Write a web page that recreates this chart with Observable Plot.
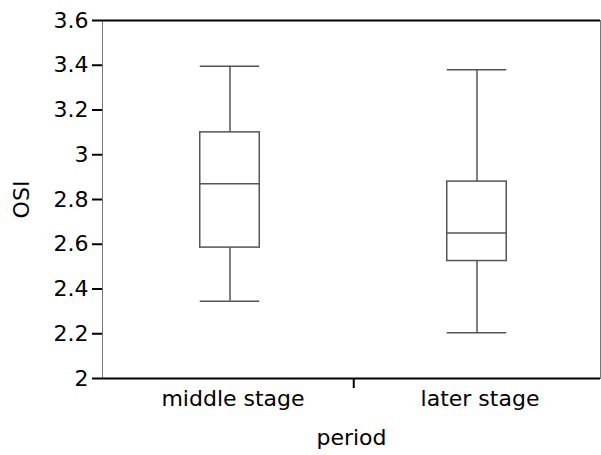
<!DOCTYPE html>
<html><head><meta charset="utf-8">
<script src="https://cdn.jsdelivr.net/npm/d3@7"></script>
<script src="https://cdn.jsdelivr.net/npm/@observablehq/plot@0.6"></script>
<style>body{margin:0;background:#fff} svg{font-family:"DejaVu Sans"}</style>
</head><body><div id="chart"></div>
<script>
const periods = ["middle stage", "later stage"];
const lowerWhisker = [2.345, 2.205];
const q1 = [2.585, 2.525];
const median = [2.87, 2.65];
const q3 = [3.10, 2.88];
const upperWhisker = [3.395, 3.38];
const yTicks = [2, 2.2, 2.4, 2.6, 2.8, 3, 3.2, 3.4, 3.6];

const stats = periods.map((p, i) => ({
  period: p, lo: lowerWhisker[i], q1: q1[i], med: median[i], q3: q3[i], hi: upperWhisker[i]
}));

const xRange = [105, 600];
const band = (xRange[1] - xRange[0]) / periods.length;
const boxW = 60;
const inset = (band - boxW) / 2;
const boxStroke = "#555";

const chart = Plot.plot({
  width: 601, height: 455,
  marginLeft: 102, marginRight: 1, marginTop: 20, marginBottom: 77,
  style: {fontFamily: "DejaVu Sans", fontSize: "22px", background: "white", color: "black"},
  x: {domain: periods, range: xRange, padding: 0, label: "period"},
  y: {domain: [2, 3.6], label: "OSI"},
  marks: [
    Plot.frame({stroke: "#777", strokeWidth: 1}),
    Plot.ruleY([3.6, 2], {stroke: "black", strokeWidth: 2}),
    Plot.axisY({ticks: yTicks, tickFormat: d => String(+d.toFixed(1)), tickSize: 10, tickPadding: 4,
      line: true, strokeWidth: 2, label: "OSI", labelAnchor: "center", labelOffset: 89, labelArrow: "none"}),
    Plot.axisX({tickSize: 0, tickPadding: 12, dx: 3, label: "period", labelAnchor: "center", labelOffset: 66, labelArrow: "none"}),
    Plot.ruleX([periods[0]], {x: d => d, dx: band / 2, y1: 2, y2: 2, insetBottom: -10, stroke: "black", strokeWidth: 2}),
    Plot.ruleX(stats, {x: "period", y1: "lo", y2: "q1", stroke: boxStroke, strokeWidth: 1.5}),
    Plot.ruleX(stats, {x: "period", y1: "q3", y2: "hi", stroke: boxStroke, strokeWidth: 1.5}),
    Plot.barY(stats, {x: "period", y1: "q1", y2: "q3", fill: "white", stroke: boxStroke, strokeWidth: 1.5, insetLeft: inset, insetRight: inset}),
    Plot.tickY(stats, {x: "period", y: "med", stroke: boxStroke, strokeWidth: 1.5, insetLeft: inset, insetRight: inset}),
    Plot.tickY(stats, {x: "period", y: "lo", stroke: boxStroke, strokeWidth: 1.5, insetLeft: inset, insetRight: inset}),
    Plot.tickY(stats, {x: "period", y: "hi", stroke: boxStroke, strokeWidth: 1.5, insetLeft: inset, insetRight: inset})
  ]
});
document.getElementById("chart").appendChild(chart);
</script></body></html>
